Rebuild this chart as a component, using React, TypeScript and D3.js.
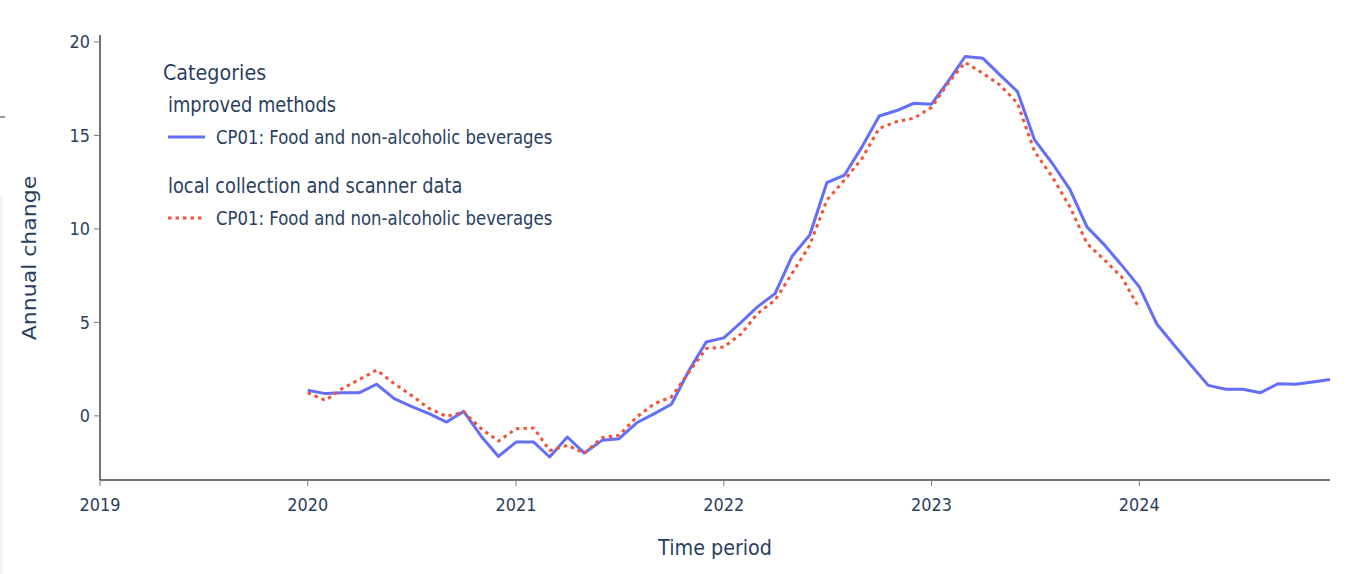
import React from "react";
import * as d3 from "d3";

const yTicks = [0, 5, 10, 15, 20];
const xTickYears = [2019, 2020, 2021, 2022, 2023, 2024];

const improvedLabel = "improved methods";
const localLabel = "local collection and scanner data";
const seriesName = "CP01: Food and non-alcoholic beverages";

// Monthly annual change, improved methods, Jan 2020 - Dec 2024
const improvedValues = [
  1.37, 1.19, 1.24, 1.24, 1.69, 0.92, 0.51, 0.12, -0.33, 0.24, -1.1, -2.17,
  -1.4, -1.4, -2.2, -1.13, -1.99, -1.31, -1.22, -0.37, 0.12, 0.62, 2.44, 3.95,
  4.17, 5.02, 5.83, 6.54, 8.54, 9.67, 12.47, 12.88, 14.4, 16.04, 16.33, 16.72,
  16.67, 17.97, 19.22, 19.13, 18.24, 17.34, 14.76, 13.51, 12.11, 10.11, 9.13, 8.06,
  6.9, 4.9, 3.83, 2.7, 1.63, 1.42, 1.42, 1.24, 1.72, 1.69, 1.81, 1.94,
];

// Monthly annual change, local collection and scanner data, Jan 2020 - Jan 2024
const localValues = [
  1.24, 0.83, 1.45, 1.95, 2.45, 1.72, 1.1, 0.4, -0.03, 0.2, -0.69, -1.35,
  -0.69, -0.65, -1.85, -1.58, -1.99, -1.17, -1.04, -0.06, 0.65, 1.01, 2.35, 3.6,
  3.68, 4.4, 5.47, 6.19, 7.62, 9.13, 11.54, 12.61, 13.78, 15.38, 15.74, 15.92,
  16.5, 17.88, 18.9, 18.33, 17.7, 16.72, 14.13, 12.79, 11.18, 9.22, 8.33, 7.43,
  5.74,
];

const startYear = 2020;
const monthDate = (i: number) => new Date(startYear + Math.floor(i / 12), i % 12, 1);

const W = 1355;
const H = 574;
const left = 100;
const right = 1330;
const top = 35;
const bottom = 480;
const SQ = 0.87;
const FONT = "'DejaVu Sans', Verdana, sans-serif";
const TXT = "#2a3f5f";

const BLUE = "#636efa";
const RED = "#EF553B";

function T({ x, y, size, anchor = "start", children, rotate = false, color = TXT }: any) {
  const tf = rotate
    ? `translate(${x},${y}) scale(${SQ},1) rotate(-90)`
    : `translate(${x},${y}) scale(${SQ},1)`;
  return (
    <text
      transform={tf}
      fontFamily={FONT}
      fontSize={size}
      fill={color}
      textAnchor={anchor}
      dominantBaseline="central"
    >
      {children}
    </text>
  );
}

export default function App() {
  const x = d3
    .scaleTime()
    .domain([new Date(2019, 0, 1), new Date(2024, 11, 1)])
    .range([left, right]);
  const y = d3.scaleLinear().domain([-3.43, 20.37]).range([bottom, top]);

  const line = d3
    .line<number>()
    .x((_, i) => x(monthDate(i)))
    .y((d) => y(d));

  return (
    <svg
      width={W}
      height={H}
      style={{ position: "absolute", left: 0, top: 0, background: "#fff" }}
    >
      <rect x={0} y={0} width={W} height={H} fill="#fff" />
      {/* small artifacts at left edge */}
      <line x1={0} x2={5} y1={117} y2={117} stroke="#333" strokeWidth={1} />
      <rect x={0} y={196} width={3} height={378} fill="#f2f2f2" />

      {/* data lines */}
      <path d={line(improvedValues) || ""} fill="none" stroke={BLUE} strokeWidth={3} strokeLinejoin="round" />
      <path
        d={line(localValues) || ""}
        fill="none"
        stroke={RED}
        strokeWidth={3}
        strokeDasharray="3.5,4"
        strokeLinejoin="round"
      />

      {/* axes */}
      <line x1={left} x2={left} y1={top} y2={bottom} stroke="#444" strokeWidth={1.5} />
      <line x1={left} x2={right} y1={bottom} y2={bottom} stroke="#444" strokeWidth={1.5} />

      {yTicks.map((t) => (
        <g key={"y" + t}>
          <line x1={left - 6} x2={left} y1={y(t)} y2={y(t)} stroke="#777" strokeWidth={1} />
          <T x={left - 10} y={y(t)} size={18.5} anchor="end">
            {t}
          </T>
        </g>
      ))}
      {xTickYears.map((yr) => {
        const px = x(new Date(yr, 0, 1));
        return (
          <g key={"x" + yr}>
            <line x1={px} x2={px} y1={bottom} y2={bottom + 6} stroke="#777" strokeWidth={1} />
            <T x={px} y={505} size={18.5} anchor="middle">
              {yr}
            </T>
          </g>
        );
      })}

      {/* axis titles */}
      <T x={715} y={548} size={22} anchor="middle">
        Time period
      </T>
      <T x={30} y={258} size={22} anchor="middle" rotate>
        Annual change
      </T>

      {/* legend */}
      <T x={163} y={73} size={22}>
        Categories
      </T>
      <T x={168} y={105} size={20.5}>
        {improvedLabel}
      </T>
      <line x1={168} x2={205} y1={137} y2={137} stroke={BLUE} strokeWidth={3} />
      <T x={216} y={137} size={19}>
        {seriesName}
      </T>
      <T x={168} y={186} size={20.5}>
        {localLabel}
      </T>
      <line x1={168} x2={205} y1={218} y2={218} stroke={RED} strokeWidth={3} strokeDasharray="3.5,4" />
      <T x={216} y={218} size={19}>
        {seriesName}
      </T>
    </svg>
  );
}
